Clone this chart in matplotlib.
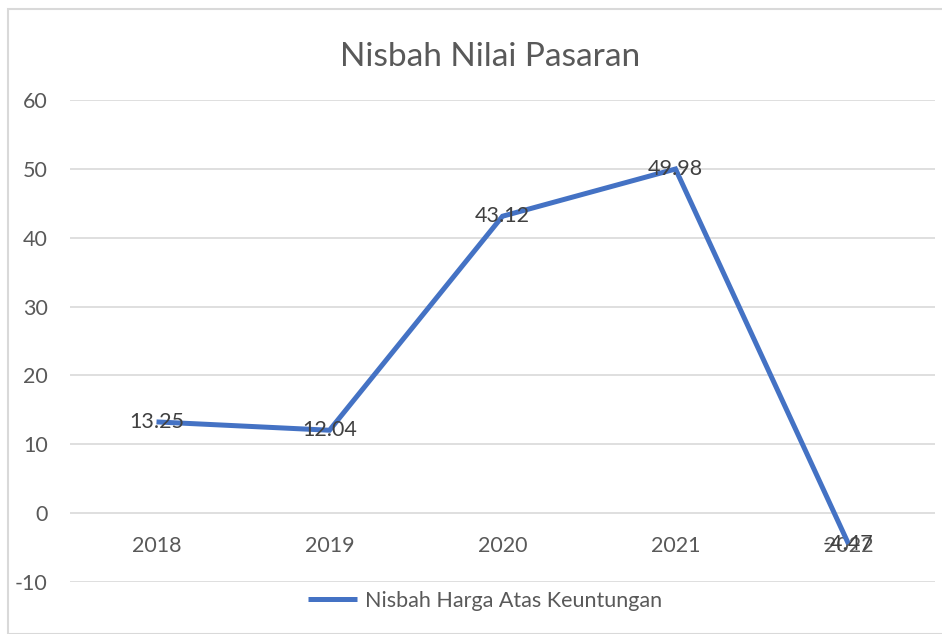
import matplotlib
matplotlib.use("Agg")
import matplotlib.pyplot as plt
from matplotlib.patches import Rectangle
from matplotlib.transforms import blended_transform_factory, offset_copy

plt.rcParams['font.family'] = ['Lato', 'DejaVu Sans']

years = ["2018", "2019", "2020", "2021", "2022"]
values = [13.25, 12.04, 43.12, 49.98, -4.47]
labels = ["13.25", "12.04", "43.12", "49.98", "-4.47"]
series_name = "Nisbah Harga Atas Keuntungan"
title = "Nisbah Nilai Pasaran"
yticks = [-10, 0, 10, 20, 30, 40, 50, 60]

FS = 15.5

fig = plt.figure(figsize=(9.42, 6.34), dpi=100)
ax = fig.add_axes([70/942, 1-582/634, 865/942, 482/634])

x = list(range(len(years)))
line, = ax.plot(x, values, color="#4472C4", lw=3.6, solid_capstyle="butt",
                solid_joinstyle="miter", zorder=3, label=series_name)

for xi, v, t in zip(x, values, labels):
    ax.text(xi, v, t, ha="center", va="center", fontsize=FS, color="#404040", zorder=4)

ax.set_xlim(-0.5, len(years) - 0.5)
ax.set_ylim(-10, 60)
ax.set_yticks(yticks)
ax.set_yticklabels([str(t) for t in yticks], fontsize=FS, color="#595959")
ax.tick_params(axis="y", length=0, pad=16)
ax.set_xticks([])
for s in ax.spines.values():
    s.set_visible(False)
ax.grid(axis="y", color="#d9d9d9", lw=1.2)
ax.set_axisbelow(True)

trans = offset_copy(blended_transform_factory(ax.transData, ax.transData), fig=fig, x=0, y=-33, units="dots")
for xi, yr in zip(x, years):
    ax.text(xi, 0, yr, transform=trans, ha="center", va="center", fontsize=FS, color="#595959", zorder=2)

fig.text(490/942, 1-57/634, title, ha="center", va="center", fontsize=24, color="#595959")

leg = fig.legend(handles=[line], loc="center", bbox_to_anchor=(485/942, 1-601/634),
                 frameon=False, fontsize=FS, handlelength=2.3, handletextpad=0.35)
for t in leg.get_texts():
    t.set_color("#595959")

fig.patches.append(Rectangle((8/942, 0), 1, 1-9/634, transform=fig.transFigure,
                             fill=False, edgecolor="#d9d9d9", lw=1.5))

fig.savefig("out.png", dpi=100)
